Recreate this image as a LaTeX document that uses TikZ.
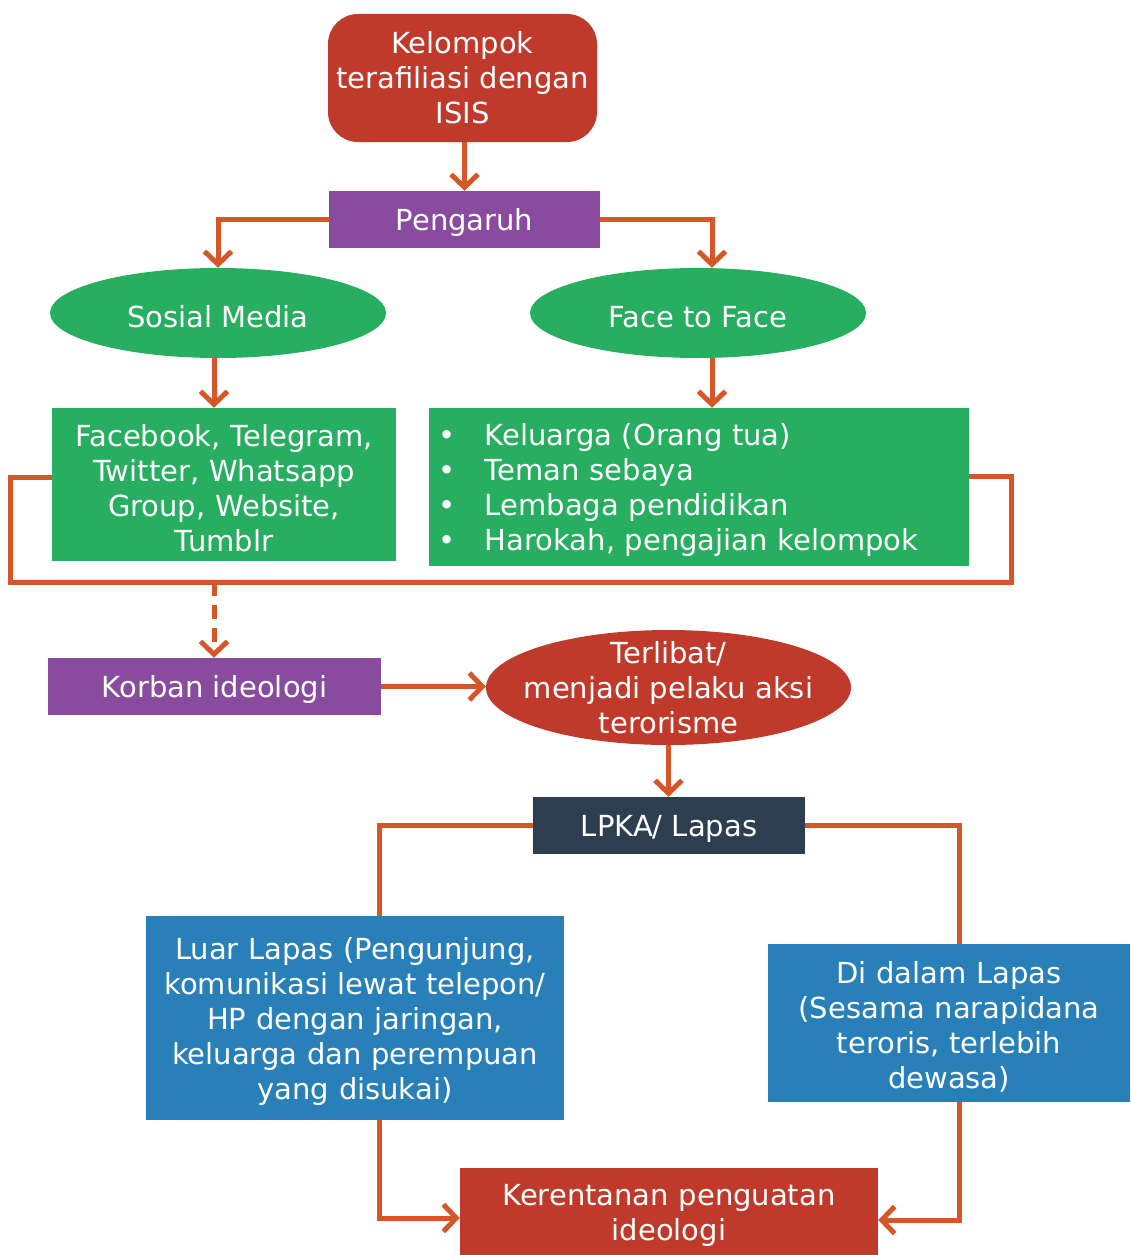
\documentclass[tikz,border=0pt]{standalone}
\usepackage{fontspec}
\setmainfont{DejaVu Sans}
\usetikzlibrary{arrows.meta,shapes.geometric}
\definecolor{redbox}{RGB}{192,58,43}
\definecolor{purplebox}{RGB}{136,75,158}
\definecolor{greenbox}{RGB}{39,174,96}
\definecolor{bluebox}{RGB}{41,128,185}
\definecolor{darkbox}{RGB}{44,62,80}
\definecolor{linkc}{RGB}{213,86,40}
\begin{document}
\begin{tikzpicture}[x=1pt, y=-1pt,
  every node/.style={text=white, inner sep=0pt, align=center, font=\fontsize{29}{35}\selectfont,
    execute at begin node=\rule{0pt}{29pt}},
  box/.style={rectangle, minimum width=#1},
  oval/.style={ellipse, minimum width=#1},
  link/.style={draw=linkc, line width=5pt},
  arr/.style={link, -{Straight Barb[length=13pt, width=27pt, line width=5pt]}}]
\useasboundingbox (0,0) rectangle (1130,1255);

\node[box=269pt, minimum height=128pt, fill=redbox, rounded corners=30pt] (top) at (462.5,78) {Kelompok\\terafiliasi dengan\\ISIS};
\node[box=271pt, minimum height=57pt, fill=purplebox] (inf) at (464.5,219.5) {Pengaruh};
\node[oval=336pt, minimum height=90pt, fill=greenbox] (sosmed) at (218,313) {Sosial Media};
\node[oval=336pt, minimum height=90pt, fill=greenbox] (f2f) at (698,313) {Face to Face};
\node[box=344pt, minimum height=153pt, fill=greenbox, text width=330pt] (fb) at (224,484.5) {Facebook, Telegram,\\Twitter, Whatsapp\\Group, Website,\\Tumblr};
\node[box=540pt, minimum height=158pt, fill=greenbox, align=left, text width=522pt] (list) at (699,487)
  {\makebox[47pt][l]{\textbullet}Keluarga (Orang tua)\\
   \makebox[47pt][l]{\textbullet}Teman sebaya\\
   \makebox[47pt][l]{\textbullet}Lembaga pendidikan\\
   \makebox[47pt][l]{\textbullet}Harokah, pengajian kelompok};
\node[box=333pt, minimum height=57pt, fill=purplebox] (korban) at (214.5,686.5) {Korban ideologi};
\node[oval=365pt, minimum height=115pt, fill=redbox,
  label={center:Terlibat/\\menjadi pelaku aksi\\terorisme}] (pelaku) at (668.5,687.5) {};
\node[box=272pt, minimum height=57pt, fill=darkbox] (lpka) at (669,825.5) {LPKA/ Lapas};
\node[box=418pt, minimum height=204pt, fill=bluebox, text width=404pt] (luar) at (355,1018) {Luar Lapas (Pengunjung,\\komunikasi lewat telepon/\\HP dengan jaringan,\\keluarga dan perempuan\\yang disukai)};
\node[box=362pt, minimum height=158pt, fill=bluebox, text width=350pt] (dalam) at (949,1023) {Di dalam Lapas\\(Sesama narapidana\\teroris, terlebih\\dewasa)};
\node[box=418pt, minimum height=87pt, fill=redbox, text width=404pt] (rentan) at (669,1211.5) {Kerentanan penguatan\\ideologi};

\coordinate (lb) at (10,582);
\coordinate (rb) at (1011,582);
\coordinate (join) at (214,582);

\draw[arr] (top.south -| inf) -- (inf.north);
\draw[arr] (inf.west) -| (sosmed.north);
\draw[arr] (inf.east) -| ([xshift=14pt]f2f.north);
\draw[arr] ([xshift=-4pt]sosmed.south) -- ([xshift=-4pt]sosmed.south |- fb.north);
\draw[arr] ([xshift=14pt]f2f.south) -- ([xshift=14pt]f2f.south |- list.north);
\draw[link] ([yshift=7pt]fb.west) -| (lb) -- (rb) |- ([yshift=11pt]list.east);
\draw[arr, dash pattern=on 14pt off 9pt] (join) -- (join |- korban.north);
\draw[arr] (korban.east) -- (korban.east -| pelaku.west);
\draw[arr] (pelaku.south) -- (pelaku.south |- lpka.north);
\draw[link] (lpka.west) -| ([xshift=24pt]luar.north);
\draw[link] (lpka.east) -| ([xshift=10pt]dalam.north);
\draw[arr] ([xshift=24pt]luar.south) |- ([yshift=-6.5pt]rentan.west);
\draw[arr] ([xshift=10pt]dalam.south) |- ([yshift=-8.5pt]rentan.east);
\end{tikzpicture}
\end{document}
